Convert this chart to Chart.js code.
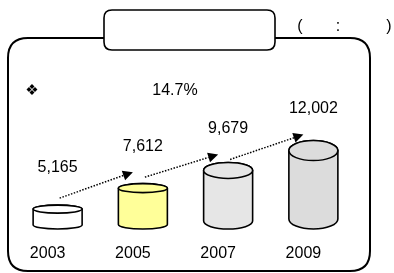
<!DOCTYPE html>
<html>
<head>
<meta charset="utf-8">
<script src="https://cdn.jsdelivr.net/npm/chart.js@4/dist/chart.umd.min.js"></script>
<style>
  html, body { margin: 0; padding: 0; background: #fff; }
  canvas { display: block; }
</style>
</head>
<body>
<canvas id="chart" width="394" height="273"></canvas>
<script>
"use strict";

const years = ["2003", "2005", "2007", "2009"];
const values = [5165, 7612, 9679, 12002];
const valueLabels = ["5,165", "7,612", "9,679", "12,002"];
const growthLabel = "14.7%";

// look of the cylinders, one per year
const fills = ["#ffffff", "#ffff99", "#e6e6e6", "#dcdcdc"];
const capHeights = [4, 4.5, 8, 10];

const FONT = "'Liberation Sans', Arial, sans-serif";

function roundRect(ctx, x, y, w, h, r) {
  ctx.beginPath();
  ctx.moveTo(x + r, y);
  ctx.lineTo(x + w - r, y);
  ctx.quadraticCurveTo(x + w, y, x + w, y + r);
  ctx.lineTo(x + w, y + h - r);
  ctx.quadraticCurveTo(x + w, y + h, x + w - r, y + h);
  ctx.lineTo(x + r, y + h);
  ctx.quadraticCurveTo(x, y + h, x, y + h - r);
  ctx.lineTo(x, y + r);
  ctx.quadraticCurveTo(x, y, x + r, y);
  ctx.closePath();
}

function drawArrow(ctx, x1, y1, x2, y2) {
  const ang = Math.atan2(y2 - y1, x2 - x1);
  const head = 10;
  ctx.save();
  ctx.strokeStyle = "#000";
  ctx.lineWidth = 1.5;
  ctx.setLineDash([1.5, 1.5]);
  ctx.beginPath();
  ctx.moveTo(x1, y1);
  ctx.lineTo(x2 - Math.cos(ang) * head, y2 - Math.sin(ang) * head);
  ctx.stroke();
  ctx.setLineDash([]);
  ctx.fillStyle = "#000";
  ctx.beginPath();
  ctx.moveTo(x2, y2);
  ctx.lineTo(x2 - head * Math.cos(ang) + 5 * Math.sin(ang), y2 - head * Math.sin(ang) - 5 * Math.cos(ang));
  ctx.lineTo(x2 - head * Math.cos(ang) - 5 * Math.sin(ang), y2 - head * Math.sin(ang) + 5 * Math.cos(ang));
  ctx.closePath();
  ctx.fill();
  ctx.restore();
}

// Rahmen + Titelbox
const framePlugin = {
  id: "frame",
  beforeDraw(chart) {
    const ctx = chart.ctx;
    ctx.save();
    ctx.fillStyle = "#fff";
    ctx.fillRect(0, 0, chart.width, chart.height);
    ctx.strokeStyle = "#000";
    ctx.lineWidth = 2;
    roundRect(ctx, 8, 38, 362, 233, 20);
    ctx.stroke();
    roundRect(ctx, 104, 10, 171, 40, 8);
    ctx.fillStyle = "#fff";
    ctx.fill();
    ctx.lineWidth = 1.6;
    ctx.stroke();

    ctx.fillStyle = "#000";
    ctx.font = "16px " + FONT;
    ctx.textAlign = "center";
    ctx.textBaseline = "middle";
    ctx.fillText("(", 300, 27);
    ctx.fillText(":", 338, 27);
    ctx.fillText(")", 389, 27);
    ctx.fillText(growthLabel, 175, 91);
    ctx.font = "15px 'DejaVu Sans', sans-serif";
    ctx.fillText("\u2756", 32, 91);
    ctx.restore();
  },
};

// Zylinder, Werte, Pfeile
const cylinderPlugin = {
  id: "cylinders",
  afterDatasetsDraw(chart) {
    const ctx = chart.ctx;
    const bars = chart.getDatasetMeta(0).data;
    const base = chart.chartArea.bottom;
    ctx.save();
    bars.forEach((bar, i) => {
      const rx = bar.width / 2;
      const ry = capHeights[i];
      const x = bar.x;
      const top = bar.y;
      const bottom = base - ry;
      ctx.lineWidth = 1.6;
      ctx.strokeStyle = "#000";
      ctx.fillStyle = fills[i];
      ctx.beginPath();
      ctx.moveTo(x - rx, top);
      ctx.lineTo(x - rx, bottom);
      ctx.ellipse(x, bottom, rx, ry, 0, Math.PI, 0, true);
      ctx.lineTo(x + rx, top);
      ctx.ellipse(x, top, rx, ry, 0, 0, -Math.PI, true);
      ctx.closePath();
      ctx.fill();
      ctx.stroke();
      ctx.beginPath();
      ctx.ellipse(x, top, rx, ry, 0, 0, Math.PI * 2);
      ctx.fill();
      ctx.stroke();

      ctx.fillStyle = "#000";
      ctx.font = "16px " + FONT;
      ctx.textAlign = "center";
      ctx.textBaseline = "middle";
      ctx.fillText(valueLabels[i], x, top - 42);
    });
    for (let i = 0; i < bars.length - 1; i++) {
      const a = bars[i];
      const b = bars[i + 1];
      drawArrow(ctx, a.x + 2, a.y - 11, b.x - 10, b.y - 16);
    }
    ctx.restore();
  },
};

new Chart(document.getElementById("chart"), {
  type: "bar",
  data: {
    labels: years,
    datasets: [{
      data: values,
      backgroundColor: "rgba(0,0,0,0)",
      borderWidth: 0,
      barThickness: 49,
    }],
  },
  options: {
    responsive: false,
    animation: false,
    layout: { padding: { left: 15, right: 38, top: 60, bottom: 0 } },
    plugins: {
      legend: { display: false },
      tooltip: { enabled: false },
    },
    scales: {
      x: {
        grid: { display: false },
        border: { display: false },
        ticks: {
          color: "#000",
          font: { family: FONT, size: 16 },
          padding: 7,
          labelOffset: -10,
        },
        afterFit: (scale) => { scale.height = 44; },
      },
      y: {
        display: false,
        min: 2840,
        max: 22580,
      },
    },
  },
  plugins: [framePlugin, cylinderPlugin],
});
</script>
</body>
</html>
